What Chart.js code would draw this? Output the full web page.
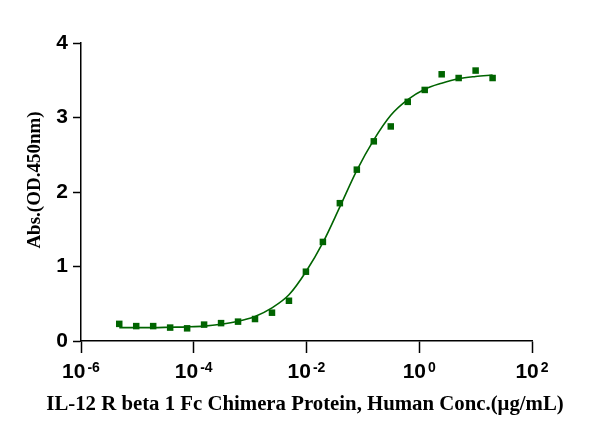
<!DOCTYPE html>
<html>
<head>
<meta charset="utf-8">
<script src="https://cdn.jsdelivr.net/npm/chart.js@4.4.0/dist/chart.umd.min.js"></script>
<style>
  body { margin: 0; background: #fff; }
  canvas { display: block; }
</style>
</head>
<body>
<canvas id="curveChart" width="602" height="435"></canvas>
<script>
// concentrations (ug/mL), 2-fold dilution from 20
const concentrations = [4.76837158203125e-6, 9.5367431640625e-6, 1.9073486328125e-5, 3.814697265625e-5,
    7.62939453125e-5, 0.000152587890625, 0.00030517578125, 0.0006103515625, 0.001220703125,
    0.00244140625, 0.0048828125, 0.009765625, 0.01953125, 0.0390625, 0.078125, 0.15625,
    0.3125, 0.625, 1.25, 2.5, 5, 10, 20];
// measured OD450
const absValues = [0.23, 0.20, 0.20, 0.18, 0.17, 0.22, 0.24, 0.26, 0.295, 0.38, 0.54, 0.93,
    1.33, 1.85, 2.30, 2.68, 2.88, 3.21, 3.37, 3.58, 3.53, 3.63, 3.53];
// fitted curve at the same concentrations
const fitValues = [0.18, 0.18, 0.18, 0.185, 0.19, 0.20, 0.225, 0.265, 0.33, 0.445, 0.62, 0.93,
    1.32, 1.80, 2.29, 2.70, 3.03, 3.24, 3.38, 3.46, 3.52, 3.55, 3.57];

const xTicks = [1e-6, 1e-4, 1e-2, 1, 1e2];
const xTickExp = ['-6', '-4', '-2', '0', '2'];
const yTicks = [0, 1, 2, 3, 4];

const xTitle = 'IL-12 R beta 1 Fc Chimera Protein, Human Conc.(μg/mL)';
const yTitle = 'Abs.(OD.450nm)';

const green = '#006400';
const sansFont = '"Liberation Sans", Arial, sans-serif';
const serifFont = '"Liberation Serif", "Times New Roman", serif';

// 10^n labels under the x axis, and both axis titles
const extraText = {
    id: 'extraText',
    afterDraw(chart) {
        const ctx = chart.ctx;
        const xs = chart.scales.x;
        ctx.save();
        ctx.fillStyle = '#000';
        ctx.textBaseline = 'alphabetic';
        ctx.textAlign = 'left';
        xTicks.forEach((v, i) => {
            const px = xs.getPixelForValue(v);
            ctx.font = 'bold 21px ' + sansFont;
            const wBase = ctx.measureText('10').width;
            ctx.font = 'bold 14px ' + sansFont;
            const wExp = ctx.measureText(xTickExp[i]).width;
            const start = px - (wBase + 2 + wExp) / 2;
            ctx.font = 'bold 21px ' + sansFont;
            ctx.fillText('10', start, 378);
            ctx.font = 'bold 14px ' + sansFont;
            ctx.fillText(xTickExp[i], start + wBase + 2, 372);
        });

        // x title
        ctx.textAlign = 'center';
        ctx.font = 'bold 20.8px ' + serifFont;
        ctx.fillText(xTitle, 305, 410);

        // y title
        ctx.translate(35, 180);
        ctx.rotate(-Math.PI / 2);
        ctx.textBaseline = 'middle';
        ctx.font = 'bold 19px ' + serifFont;
        ctx.fillText(yTitle, 0, 0);
        ctx.restore();
    }
};

const ctx = document.getElementById('curveChart').getContext('2d');
const curveChart = new Chart(ctx, {
    type: 'scatter',
    data: {
        datasets: [{
            label: 'fit',
            data: concentrations.map((c, i) => ({ x: c, y: fitValues[i] })),
            showLine: true,
            borderColor: green,
            borderWidth: 1.6,
            pointRadius: 0,
            cubicInterpolationMode: 'monotone',
            fill: false
        }, {
            label: 'data',
            data: concentrations.map((c, i) => ({ x: c, y: absValues[i] })),
            showLine: false,
            pointStyle: 'rect',
            pointRadius: 4.6,
            borderWidth: 0,
            backgroundColor: green,
            borderColor: green
        }]
    },
    plugins: [extraText],
    options: {
        responsive: false,
        animation: false,
        layout: { padding: { top: 43, right: 70, bottom: 0, left: 0 } },
        plugins: {
            legend: { display: false },
            tooltip: { enabled: false }
        },
        scales: {
            x: {
                type: 'logarithmic',
                min: 1e-6,
                max: 1e2,
                afterBuildTicks: (scale) => {
                    scale.ticks = xTicks.map(v => ({ value: v }));
                },
                afterFit: (scale) => { scale.height = 94; },
                ticks: { callback: () => '', padding: 0 },
                grid: {
                    drawOnChartArea: false,
                    drawTicks: true,
                    tickLength: 12,
                    tickWidth: 1.5,
                    tickColor: '#000'
                },
                border: { display: true, color: '#000', width: 1.5 }
            },
            y: {
                min: 0,
                max: 4,
                afterBuildTicks: (scale) => {
                    scale.ticks = yTicks.map(v => ({ value: v }));
                },
                afterFit: (scale) => { scale.width = 81; },
                ticks: {
                    color: '#000',
                    padding: 5,
                    font: { family: sansFont, size: 21, weight: 'bold' }
                },
                grid: {
                    drawOnChartArea: false,
                    drawTicks: true,
                    tickLength: 8,
                    tickWidth: 1.5,
                    tickColor: '#000'
                },
                border: { display: true, color: '#000', width: 1.5 }
            }
        }
    }
});
</script>
</body>
</html>
